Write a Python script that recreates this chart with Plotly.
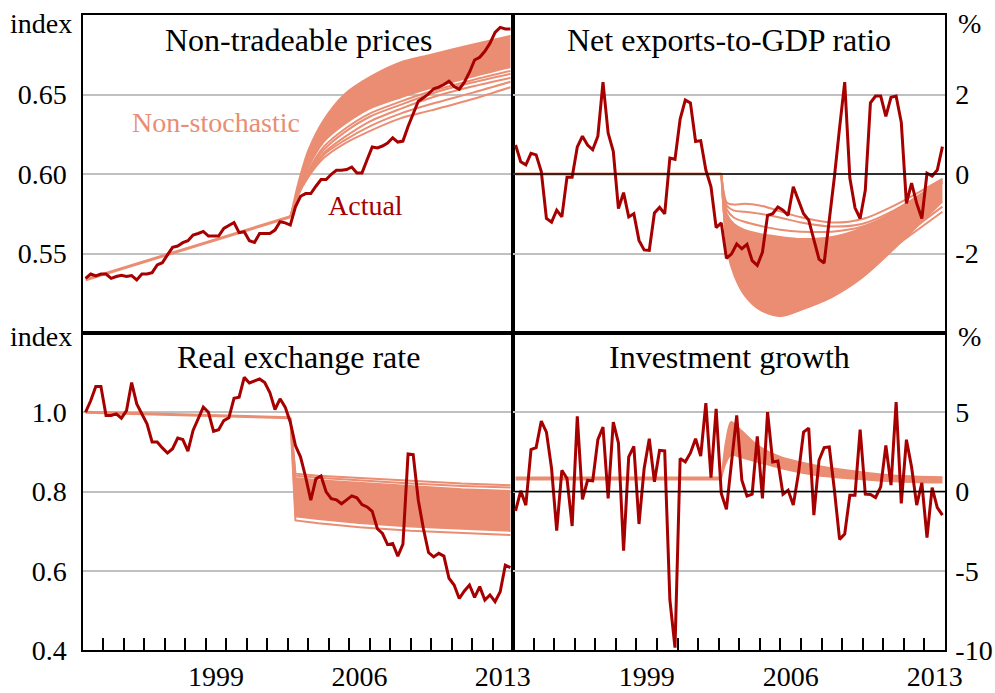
import plotly.graph_objects as go

# ---------------- data ----------------
# quarterly observations 1993Q1 .. 2013Q4 (plotted at mid-quarter, decimal years)
quarters = [1993.125 + 0.25 * i for i in range(84)]

ntp_actual = [0.5344, 0.5371, 0.5359, 0.5371, 0.5371, 0.5344, 0.5355, 0.5363, 0.5355, 0.5361,
              0.5334, 0.5371, 0.5371, 0.5380, 0.5428, 0.5442, 0.5491, 0.5539, 0.5547, 0.5568,
              0.5580, 0.5616, 0.5626, 0.5639, 0.5610, 0.5610, 0.5610, 0.5658, 0.5679, 0.5695,
              0.5631, 0.5637, 0.5580, 0.5570, 0.5626, 0.5626, 0.5626, 0.5647, 0.5700, 0.5693,
              0.5679, 0.5794, 0.5860, 0.5877, 0.5877, 0.5923, 0.5965, 0.5965, 0.5998, 0.6023,
              0.6023, 0.6028, 0.6044, 0.6007, 0.6007, 0.6090, 0.6170, 0.6164, 0.6176, 0.6195,
              0.6228, 0.6201, 0.6207, 0.6299, 0.6379, 0.6458, 0.6479, 0.6504, 0.6536, 0.6546,
              0.6563, 0.6584, 0.6550, 0.6533, 0.6577, 0.6640, 0.6717, 0.6734, 0.6772, 0.6822,
              0.6891, 0.6922, 0.6912, 0.6912]

nx_actual = [0.73, 0.31, 0.23, 0.52, 0.48, 0.06, -1.12, -1.21, -0.91, -1.08,
             -0.08, -0.08, 0.68, 0.95, 0.73, 0.61, 0.95, 2.31, 1.03, 0.57,
             -0.87, -0.47, -1.08, -1.00, -1.67, -1.91, -1.92, -0.98, -0.84, -1.00,
             0.40, 0.37, 1.38, 1.86, 1.79, 0.82, 0.84, 0.10, -0.32, -1.35,
             -1.23, -2.12, -2.01, -1.76, -1.88, -1.77, -2.18, -2.30, -1.97, -1.04,
             -1.00, -0.83, -0.91, -1.04, -0.32, -0.66, -1.00, -1.16, -1.67, -2.14,
             -2.24, -1.16, -0.07, 1.16, 2.31, -0.10, -0.85, -1.12, -0.41, 1.79,
             1.96, 1.96, 1.45, 1.93, 1.96, 1.30, -0.74, -0.23, -0.74, -1.12,
             0.02, -0.05, 0.10, 0.69]

rer_actual = [1.000, 1.029, 1.065, 1.065, 0.992, 0.992, 0.996, 0.985, 1.004, 1.075,
              1.021, 0.996, 0.971, 0.925, 0.925, 0.910, 0.897, 0.908, 0.935, 0.931,
              0.902, 0.954, 0.983, 1.013, 1.000, 0.952, 0.956, 0.979, 0.986, 1.035,
              1.038, 1.088, 1.074, 1.080, 1.084, 1.075, 1.050, 1.007, 1.034, 1.013,
              0.975, 0.916, 0.887, 0.836, 0.778, 0.832, 0.839, 0.799, 0.782, 0.779,
              0.769, 0.779, 0.789, 0.784, 0.767, 0.761, 0.750, 0.706, 0.694, 0.666,
              0.669, 0.637, 0.667, 0.895, 0.893, 0.778, 0.706, 0.646, 0.635, 0.644,
              0.637, 0.581, 0.564, 0.530, 0.549, 0.564, 0.533, 0.560, 0.526, 0.539,
              0.522, 0.547, 0.614, 0.608]

inv_actual = [-1.22, 0.04, -0.86, 2.64, 2.77, 4.44, 3.75, 1.45, -2.47, 1.34,
              0.82, -2.18, 4.74, -0.50, 0.71, 0.67, 3.27, 4.07, -0.44, 4.38,
              3.06, -3.73, 2.18, 2.85, -2.05, 1.45, 3.33, 0.61, 2.60, 2.56,
              -6.83, -9.85, 2.08, 1.87, 2.43, 3.33, 2.24, 5.58, 0.88, 5.22,
              -0.13, -1.13, 1.87, 4.80, 0.71, -0.29, -0.17, 3.48, -0.44, 5.01,
              1.87, 1.93, -0.17, 0.08, -0.86, 1.13, 3.75, 4.00, -1.49, 1.97,
              2.77, 2.81, 0.08, -3.02, -2.68, -0.23, -0.23, 3.90, -0.17, -0.19,
              -0.38, 0.29, 2.91, 0.40, 5.64, -0.75, 3.27, 1.55, -0.86, 0.55,
              -2.91, 0.25, -1.01, -1.49]

# non-stochastic path before the shock (start, shock date)
pre_dates = [1993.125, 2003.125]
ntp_pre = [0.5335, 0.5731]
nx_pre = [0.0, 0.0]
rer_pre = [1.000, 0.986]
inv_pre = [0.82, 0.82]

# simulated paths after the shock (read at knot dates)
ntp_knots = [2003.125, 2003.5, 2004.0, 2004.75, 2005.75, 2007.0, 2008.5, 2010.0, 2012.0, 2013.875]
ntp_band_hi = [0.5731, 0.594, 0.615, 0.634, 0.650, 0.661, 0.6703, 0.6752, 0.6815, 0.687]
ntp_band_lo = [0.5731, 0.589, 0.604, 0.620, 0.631, 0.641, 0.648, 0.654, 0.661, 0.667]
ntp_paths = [
    [0.5731, 0.5885, 0.602, 0.617, 0.628, 0.638, 0.6455, 0.652, 0.659, 0.6648],
    [0.5731, 0.5880, 0.601, 0.615, 0.626, 0.636, 0.6435, 0.6505, 0.6575, 0.6630],
    [0.5731, 0.5875, 0.600, 0.613, 0.623, 0.633, 0.6410, 0.6480, 0.6550, 0.6605],
    [0.5731, 0.5870, 0.599, 0.612, 0.621, 0.630, 0.6380, 0.6440, 0.6510, 0.6580],
    [0.5731, 0.5865, 0.598, 0.610, 0.619, 0.627, 0.6350, 0.6400, 0.6470, 0.6546],
]

nx_knots = [2003.125, 2003.4, 2003.75, 2004.25, 2005.0, 2006.0, 2007.0, 2008.5, 2010.0, 2011.5, 2013.875]
nx_band_hi = [0.0, -1.0, -1.25, -1.40, -1.50, -1.58, -1.63, -1.58, -1.35, -0.95, -0.12]
nx_band_lo = [0.0, -1.9, -2.55, -3.05, -3.42, -3.58, -3.42, -3.10, -2.60, -1.90, -0.70]
nx_paths = [
    [0.0, -0.72, -0.77, -0.75, -0.79, -0.94, -1.09, -1.22, -1.13, -0.80, -0.12],
    [0.0, -0.80, -0.92, -0.95, -1.00, -1.10, -1.22, -1.32, -1.25, -0.92, -0.18],
    [0.0, -0.90, -1.10, -1.20, -1.30, -1.40, -1.45, -1.45, -1.32, -0.98, -0.22],
    [0.0, -1.60, -2.15, -2.60, -2.90, -3.05, -3.05, -2.78, -2.35, -1.75, -0.82],
    [0.0, -1.70, -2.30, -2.75, -3.05, -3.20, -3.20, -2.90, -2.45, -1.85, -0.95],
]

rer_knots = [2003.125, 2003.375, 2004.5, 2006.5, 2009.0, 2011.5, 2013.875]
rer_band_hi = [0.986, 0.835, 0.829, 0.822, 0.813, 0.806, 0.802]
rer_band_lo = [0.986, 0.737, 0.730, 0.720, 0.711, 0.705, 0.700]
rer_paths = [
    [0.986, 0.845, 0.840, 0.834, 0.826, 0.820, 0.816],
    [0.986, 0.840, 0.835, 0.828, 0.820, 0.814, 0.810],
    [0.986, 0.727, 0.720, 0.710, 0.701, 0.695, 0.690],
]

inv_knots = [2003.125, 2003.35, 2003.6, 2004.1, 2004.9, 2006.0, 2007.7, 2009.3, 2010.9, 2012.5, 2013.875]
inv_band_hi = [0.82, 3.2, 4.4, 3.86, 2.91, 2.20, 1.66, 1.34, 1.09, 0.96, 0.92]
inv_band_lo = [0.82, 1.8, 2.3, 2.15, 1.85, 1.47, 1.03, 0.82, 0.67, 0.59, 0.55]

year_ticks = list(range(1994, 2014))
label_years = [1999.5, 2006.5, 2013.5]
label_text = ['1999', '2006', '2013']

# ---------------- style ----------------
RED = '#A60000'
SAL = '#EA8D72'
GRID = '#C0C0C0'
FONT = 'Liberation Serif, Times New Roman, serif'
W, H = 995, 693


def px(x):   # screen x -> paper
    return x / W


def py(y):   # screen y -> paper
    return 1 - y / H


fig = go.Figure()


def line(x, y, xa, ya, color, width, shape='linear', fill=None):
    fig.add_trace(go.Scatter(
        x=x, y=y, mode='lines', xaxis=xa, yaxis=ya,
        line=dict(color=color, width=width, shape=shape, smoothing=0.8 if shape == 'spline' else None),
        fill=fill, fillcolor=SAL if fill else None,
        hoverinfo='skip', showlegend=False))


def panel(xa, ya, pre, knots, lo, hi, paths, actual, shape, prew=3):
    line(pre_dates, pre, xa, ya, SAL, prew)
    line(knots, lo, xa, ya, SAL, 1.5, shape)
    line(knots, hi, xa, ya, SAL, 1.5, shape, fill='tonexty')
    for p in paths:
        line(knots, p, xa, ya, SAL, 2, shape)
    line(quarters, actual, xa, ya, RED, 3)


panel('x', 'y', ntp_pre, ntp_knots, ntp_band_lo, ntp_band_hi, ntp_paths, ntp_actual, 'spline')
panel('x2', 'y2', nx_pre, nx_knots, nx_band_lo, nx_band_hi, nx_paths, nx_actual, 'spline')
panel('x3', 'y3', rer_pre, rer_knots, rer_band_lo, rer_band_hi, rer_paths, rer_actual, 'linear')
panel('x4', 'y4', inv_pre, inv_knots, inv_band_lo, inv_band_hi, [], inv_actual, 'spline', prew=4)

xl = [px(83), px(513)]
xr = [px(513), px(945)]
yt = [py(333), py(15)]
yb = [py(650), py(333)]

tickfont = dict(family=FONT, size=28, color='black')


def xaxis(domain, anchor, bottom):
    d = dict(domain=domain, anchor=anchor, range=[1993, 2014], showline=True, mirror=True,
             linecolor='black', linewidth=1.5, showgrid=False, zeroline=False, ticks='',
             automargin=False, fixedrange=True)
    if bottom:
        d.update(tickmode='array', tickvals=label_years, ticktext=label_text, tickfont=tickfont,
                 ticklabelstandoff=1,
                 minor=dict(tickmode='array', tickvals=year_ticks, ticks='inside', ticklen=12,
                            tickwidth=1.5, tickcolor='black', showgrid=False))
    else:
        d.update(showticklabels=False)
    return d


def yaxis(domain, anchor, rng, vals, text, side):
    return dict(domain=domain, anchor=anchor, range=rng, tickmode='array', tickvals=vals,
                ticktext=text, side=side, showline=True, mirror=True, linecolor='black',
                linewidth=1.5, showgrid=True, gridcolor=GRID, gridwidth=1.5, zeroline=False,
                ticks='', tickfont=tickfont, ticklabelstandoff=9 if side == 'left' else 3,
                automargin=False, fixedrange=True)


fig.update_layout(
    width=W, height=H, autosize=False,
    margin=dict(l=0, r=0, t=0, b=0),
    paper_bgcolor='white', plot_bgcolor='white',
    font=dict(family=FONT, color='black'),
    xaxis=xaxis(xl, 'y', False),
    xaxis2=xaxis(xr, 'y2', False),
    xaxis3=xaxis(xl, 'y3', True),
    xaxis4=xaxis(xr, 'y4', True),
    yaxis=yaxis(yt, 'x', [0.5, 0.7], [0.55, 0.60, 0.65], ['0.55', '0.60', '0.65'], 'left'),
    yaxis2=yaxis(yt, 'x2', [-4, 4], [-2, 0, 2], ['-2', '0', '2'], 'right'),
    yaxis3=yaxis(yb, 'x3', [0.4, 1.2], [0.4, 0.6, 0.8, 1.0], ['0.4', '0.6', '0.8', '1.0'], 'left'),
    yaxis4=yaxis(yb, 'x4', [-10, 10], [-10, -5, 0, 5], ['-10', '-5', '0', '5'], 'right'),
    shapes=[
        dict(type='line', xref='x2 domain', yref='y2', x0=0, x1=1, y0=0, y1=0,
             line=dict(color='black', width=1.5), layer='above'),
        dict(type='line', xref='x4 domain', yref='y4', x0=0, x1=1, y0=0, y1=0,
             line=dict(color='black', width=1.5), layer='above'),
    ],
)

ann = []
titles = [('Non-tradeable prices', 298, 40), ('Net exports-to-GDP ratio', 729, 40),
          ('Real exchange rate', 298, 357), ('Investment growth', 729, 357)]
for text, sx, sy in titles:
    ann.append(dict(text=text, x=px(sx), y=py(sy), xref='paper', yref='paper',
                    xanchor='center', yanchor='middle', showarrow=False,
                    font=dict(family=FONT, size=32, color='black')))
units = [('index', 41, 23), ('index', 41, 336), ('%', 969, 23), ('%', 969, 336)]
for text, sx, sy in units:
    ann.append(dict(text=text, x=px(sx), y=py(sy), xref='paper', yref='paper',
                    xanchor='center', yanchor='middle', showarrow=False,
                    font=dict(family=FONT, size=28, color='black')))
ann.append(dict(text='Non-stochastic', x=1999.5, y=0.6324, xref='x', yref='y',
                xanchor='center', yanchor='middle', showarrow=False,
                font=dict(family=FONT, size=28, color=SAL)))
ann.append(dict(text='Actual', x=2006.8, y=0.5804, xref='x', yref='y',
                xanchor='center', yanchor='middle', showarrow=False,
                font=dict(family=FONT, size=28, color=RED)))
fig.update_layout(annotations=ann)

# remove the browser's default page margin so the figure fills the window exactly
fig.write_html('out.html', config={'displayModeBar': False},
               post_script="document.body.style.margin='0';")
